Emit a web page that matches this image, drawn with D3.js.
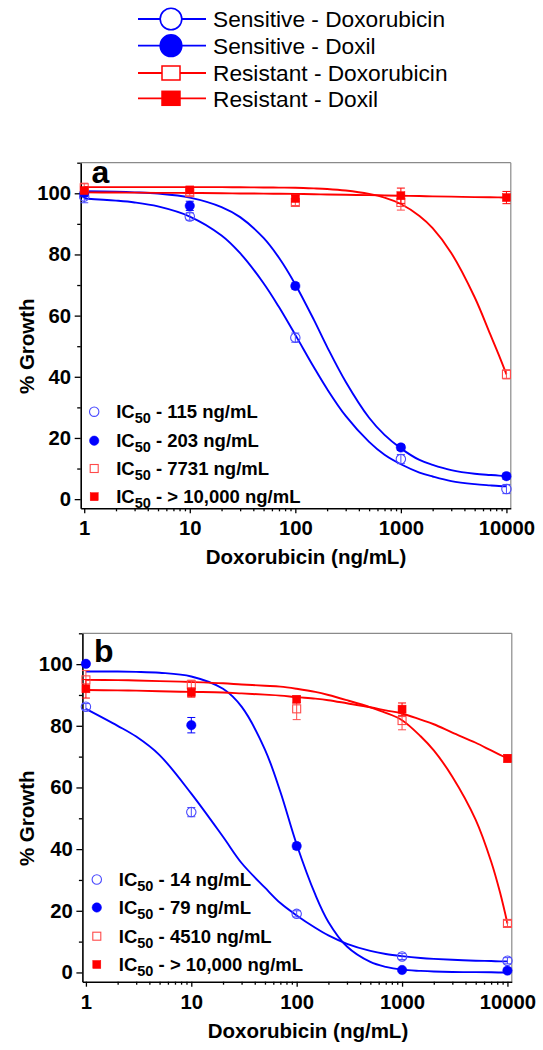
<!DOCTYPE html>
<html><head><meta charset="utf-8">
<script src="https://cdn.jsdelivr.net/npm/d3@7"></script>
<style>html,body{margin:0;padding:0;background:#fff;} svg{display:block;}</style>
</head><body><svg id="chart" width="543" height="1050"></svg>
<script>
// ---------------- data ----------------
const doses = [1, 10, 100, 1000, 10000];
const seriesNames = ["Sensitive - Doxorubicin", "Sensitive - Doxil", "Resistant - Doxorubicin", "Resistant - Doxil"];

// panel a measured points (% growth) and error bars
const aSensDoxo = [98.9, 92.4, 52.8, 13.1, 3.3];
const aSensDoxil = [100.0, 95.9, 69.7, 16.9, 7.5];
const aResDoxo = [101.8, 100.2, 97.0, 97.0, 40.8];
const aResDoxil = [100.9, 101.1, 98.3, 99.2, 98.6];
const aSensDoxoErr = [2.0, 1.2, 1.5, 1.5, 1.5];
const aSensDoxilErr = [1.0, 1.5, 1.0, 1.0, 1.0];
const aResDoxoErr = [1.5, 1.0, 1.0, 2.5, 1.5];
const aResDoxilErr = [1.0, 1.0, 1.0, 2.5, 2.0];

// panel b measured points
const bSensDoxo = [86.2, 52.0, 19.0, 5.2, 3.8];
const bSensDoxil = [100.1, 80.2, 41.0, 0.8, 0.6];
const bResDoxo = [94.9, 93.3, 85.5, 81.7, 15.9];
const bResDoxil = [92.0, 90.8, 88.6, 85.4, 69.4];
const bSensDoxoErr = [1.0, 1.5, 1.0, 1.0, 1.0];
const bSensDoxilErr = [0.8, 2.5, 1.0, 0.5, 0.5];
const bResDoxoErr = [3.0, 1.5, 3.5, 3.0, 1.0];
const bResDoxilErr = [3.0, 1.5, 1.0, 2.0, 1.2];

// fitted curves at these doses
const fitDoses = [1, 2, 3, 5, 10, 20, 30, 50, 70, 100, 150, 200, 300, 500, 700, 1000, 1500, 2000, 3000, 5000, 7000, 8500, 10000];
const aFitSensDoxo = [98.3, 97.6, 97.0, 95.7, 92.4, 86.2, 80.4, 70.6, 62.8, 53.7, 43.1, 36.0, 27.2, 18.7, 14.5, 11.4, 8.7, 7.4, 5.9, 4.9, 4.5, 4.3, 4.2];
const aFitSensDoxil = [100.7, 100.5, 100.3, 99.9, 98.6, 95.5, 92.2, 85.4, 78.9, 70.2, 58.6, 49.8, 38.4, 26.6, 21.0, 16.6, 12.8, 11.2, 9.5, 8.3, 7.9, 7.7, 7.6];
const aFitResDoxo = [102.0, 102.0, 102.0, 102.0, 102.0, 102.0, 101.95, 101.9, 101.85, 101.8, 101.6, 101.4, 100.9, 99.8, 98.6, 96.5, 92.6, 88.6, 80.5, 66.0, 54.0, 47.0, 40.8];
const aFitResDoxil = [100.3, 100.25, 100.2, 100.15, 100.1, 100.0, 99.95, 99.9, 99.85, 99.8, 99.7, 99.6, 99.5, 99.4, 99.3, 99.2, 99.1, 99.0, 98.9, 98.75, 98.7, 98.65, 98.6];
const bFitSensDoxo = [85.5, 80.0, 76.5, 70.5, 58.0, 44.0, 35.5, 27.5, 22.5, 18.5, 14.5, 12.0, 9.3, 7.0, 6.0, 5.3, 4.7, 4.4, 4.1, 3.8, 3.7, 3.6, 3.6];
const bFitSensDoxil = [97.6, 97.6, 97.5, 97.2, 96.0, 92.0, 86.2, 72.3, 58.6, 41.5, 25.3, 16.4, 8.4, 3.4, 1.8, 0.9, 0.5, 0.3, 0.15, 0.1, 0.05, 0.0, 0.0];
const bFitResDoxo = [94.9, 94.8, 94.7, 94.5, 94.2, 93.8, 93.4, 93.0, 92.7, 92.0, 91.0, 90.0, 88.3, 86.0, 84.2, 81.8, 76.6, 72.0, 63.5, 49.5, 36.0, 26.0, 15.9];
const bFitResDoxil = [91.6, 91.5, 91.4, 91.2, 91.0, 90.8, 90.5, 90.1, 89.8, 89.3, 88.8, 88.3, 87.3, 86.0, 85.0, 84.0, 82.0, 80.5, 77.8, 74.5, 72.0, 70.6, 69.4];

const aIC50 = ["115 ng/mL", "203 ng/mL", "7731 ng/mL", "> 10,000 ng/mL"];
const bIC50 = ["14 ng/mL", "79 ng/mL", "4510 ng/mL", "> 10,000 ng/mL"];

const yTicks = [0, 20, 40, 60, 80, 100];
const yMinorTicks = [10, 30, 50, 70, 90, 110];
const xTicks = [1, 10, 100, 1000, 10000];
const xMinorTicks = [2,3,4,5,6,7,8,9,20,30,40,50,60,70,80,90,200,300,400,500,600,700,800,900,2000,3000,4000,5000,6000,7000,8000,9000];
const xTitle = "Doxorubicin (ng/mL)";
const yTitle = "% Growth";

// ---------------- styles ----------------
const FONT = "'Liberation Sans', Arial, Helvetica, sans-serif";
const BLUE = "#0000ff", RED = "#ff0000";
const styles = [
  {color: BLUE, light: "#4a4aff", shape: "circle", filled: false},
  {color: BLUE, light: BLUE, shape: "circle", filled: true},
  {color: RED, light: "#ff4a4a", shape: "square", filled: false},
  {color: RED, light: RED, shape: "square", filled: true}
];

const svg = d3.select("#chart");

function drawMarker(g, shape, filled, color, cx, cy, size, fillEmpty) {
  if (shape === "circle") {
    g.append("circle").attr("cx", cx).attr("cy", cy).attr("r", size)
      .attr("fill", filled ? color : fillEmpty).attr("stroke", color).attr("stroke-width", filled ? 0.5 : 1.1);
  } else {
    g.append("rect").attr("x", cx - size).attr("y", cy - size).attr("width", 2 * size).attr("height", 2 * size)
      .attr("fill", filled ? color : fillEmpty).attr("stroke", color).attr("stroke-width", filled ? 0.5 : 1.1);
  }
}

function drawPanel(cfg) {
  const x = d3.scaleLog().domain([0.926, 11000]).range([cfg.left, cfg.right]);
  const y = d3.scaleLinear().domain([-3, 110]).range([cfg.bottom, cfg.top]);
  const g = svg.append("g");

  // frame (top & right, grey)
  g.append("line").attr("x1", cfg.left).attr("x2", cfg.right).attr("y1", cfg.top).attr("y2", cfg.top)
    .attr("stroke", "#8a8a8a").attr("stroke-width", 1.2);
  g.append("line").attr("x1", cfg.right).attr("x2", cfg.right).attr("y1", cfg.top).attr("y2", cfg.bottom)
    .attr("stroke", "#8a8a8a").attr("stroke-width", 1.2);

  // y axis
  g.append("g").attr("transform", `translate(${cfg.left},0)`)
    .call(d3.axisLeft(y).tickValues(yTicks).tickSize(6).tickSizeOuter(0).tickPadding(3.7).tickFormat(d3.format("d")));
  g.append("g").attr("transform", `translate(${cfg.left},0)`)
    .call(d3.axisLeft(y).tickValues(yMinorTicks).tickSize(3.5).tickSizeOuter(0).tickFormat(""))
    .select(".domain").remove();
  // x axis
  g.append("g").attr("transform", `translate(0,${cfg.bottom})`)
    .call(d3.axisBottom(x).tickValues(xTicks).tickSize(5).tickSizeOuter(0).tickPadding(7.5).tickFormat(d3.format("d")));
  g.append("g").attr("transform", `translate(0,${cfg.bottom})`)
    .call(d3.axisBottom(x).tickValues(xMinorTicks).tickSize(3).tickSizeOuter(0).tickFormat(""))
    .select(".domain").remove();
  g.selectAll(".domain").attr("stroke", "#000").attr("stroke-width", 1.6);
  g.selectAll(".tick line").attr("stroke", "#000").attr("stroke-width", 1.3);
  g.selectAll(".tick text").attr("font-family", FONT).attr("font-size", 20.3).attr("font-weight", "bold").attr("fill", "#000");

  // titles
  g.append("text").attr("x", cfg.xTitleX).attr("y", cfg.bottom + 56).attr("text-anchor", "middle")
    .attr("font-family", FONT).attr("font-size", 20.5).attr("font-weight", "bold").text(xTitle);
  g.append("text").attr("transform", `translate(33.5,${y(50)}) rotate(-90)`).attr("text-anchor", "middle")
    .attr("font-family", FONT).attr("font-size", 20.5).attr("font-weight", "bold").text(yTitle);
  g.append("text").attr("x", cfg.labelX).attr("y", cfg.labelY)
    .attr("font-family", FONT).attr("font-size", 32).attr("font-weight", "bold").text(cfg.label);

  // fitted curves
  const line = d3.line().x(d => x(d[0])).y(d => y(d[1])).curve(d3.curveCatmullRom.alpha(0.5));
  cfg.fits.forEach((fit, i) => {
    g.append("path").datum(fitDoses.map((d, k) => [d, fit[k]]))
      .attr("d", line).attr("fill", "none").attr("stroke", styles[i].color).attr("stroke-width", 1.9);
  });

  // points with error bars
  cfg.points.forEach((vals, i) => {
    const st = styles[i];
    const errs = cfg.errs[i];
    const pg = g.append("g");
    vals.forEach((v, k) => {
      const cx = x(doses[k]);
      const e = errs[k];
      pg.append("line").attr("x1", cx).attr("x2", cx).attr("y1", y(v - e)).attr("y2", y(v + e))
        .attr("stroke", st.light).attr("stroke-width", 1);
      [v - e, v + e].forEach(ev => {
        pg.append("line").attr("x1", cx - 4).attr("x2", cx + 4).attr("y1", y(ev)).attr("y2", y(ev))
          .attr("stroke", st.light).attr("stroke-width", 1);
      });
      drawMarker(pg, st.shape, st.filled, st.light, cx, y(v), st.shape === "circle" ? 4.7 : 4, "none");
    });
  });

  // inner legend
  cfg.ic50.forEach((lab, i) => {
    const st = styles[i];
    const cy = cfg.legY[i];
    drawMarker(g, st.shape, st.filled, st.light, cfg.legX, cy, st.shape === "circle" ? 4.7 : 4, "#fff");
    const t = g.append("text").attr("x", cfg.legX + 22).attr("y", cy + 6.6)
      .attr("font-family", FONT).attr("font-weight", "bold").attr("font-size", 18.5);
    t.append("tspan").text("IC");
    t.append("tspan").attr("font-size", 14.5).attr("dy", 5).text("50");
    t.append("tspan").attr("dy", -5).text(" - " + lab);
  });
}

drawPanel({
  left: 80.7, right: 510.8, top: 162.7, bottom: 508.3,
  label: "a", labelX: 91.5, labelY: 183.3, xTitleX: 306,
  fits: [aFitSensDoxo, aFitSensDoxil, aFitResDoxo, aFitResDoxil],
  points: [aSensDoxo, aSensDoxil, aResDoxo, aResDoxil],
  errs: [aSensDoxoErr, aSensDoxilErr, aResDoxoErr, aResDoxilErr],
  ic50: aIC50, legX: 94.2, legY: [411.7, 440.7, 468.5, 496.7]
});
drawPanel({
  left: 82.4, right: 511.8, top: 633.3, bottom: 981.7,
  label: "b", labelX: 94, labelY: 661.5, xTitleX: 308,
  fits: [bFitSensDoxo, bFitSensDoxil, bFitResDoxo, bFitResDoxil],
  points: [bSensDoxo, bSensDoxil, bResDoxo, bResDoxil],
  errs: [bSensDoxoErr, bSensDoxilErr, bResDoxoErr, bResDoxilErr],
  ic50: bIC50, legX: 96.8, legY: [879.5, 907.5, 936.2, 964.5]
});

// ---------------- top legend ----------------
const legRows = [19, 45.7, 73, 98.3];
const lg = svg.append("g");
seriesNames.forEach((name, i) => {
  const st = styles[i];
  const cy = legRows[i];
  lg.append("line").attr("x1", 138).attr("x2", 206).attr("y1", cy).attr("y2", cy)
    .attr("stroke", st.color).attr("stroke-width", 1.8);
  if (st.shape === "circle") {
    lg.append("circle").attr("cx", 171).attr("cy", cy).attr("r", 10.8)
      .attr("fill", st.filled ? st.color : "#fff").attr("stroke", st.color).attr("stroke-width", 1.6);
  } else {
    lg.append("rect").attr("x", 162).attr("y", cy - 7).attr("width", 18).attr("height", 14)
      .attr("fill", st.filled ? st.color : "#fff").attr("stroke", st.color).attr("stroke-width", 1.5);
  }
  lg.append("text").attr("x", 213).attr("y", cy + 8.2).attr("font-family", FONT).attr("font-size", 22.7)
    .attr("fill", "#000").text(name);
});
</script>
</body></html>
